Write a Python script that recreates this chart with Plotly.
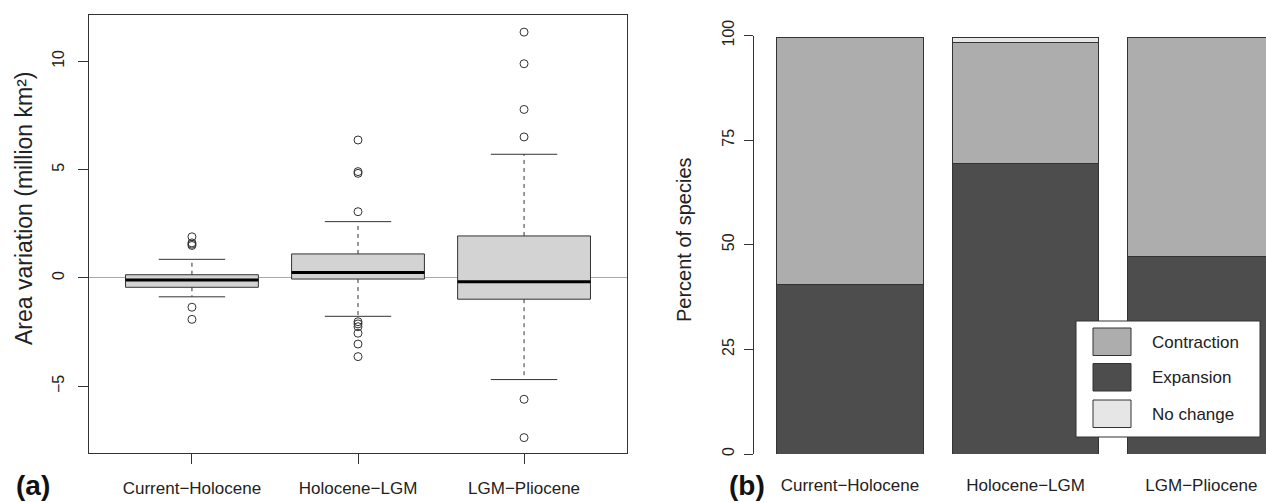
import plotly.graph_objects as go

W, H = 1266, 503
FONT = "Liberation Sans, Arial, sans-serif"
INK = "#333333"

# ---------------- Panel (a) data: area variation (million km²) ----------------
periods = ["Current−Holocene", "Holocene−LGM", "LGM−Pliocene"]
q1 = [-0.43, -0.05, -0.98]
median = [-0.09, 0.25, -0.17]
q3 = [0.15, 1.11, 1.94]
lower_whisker = [-0.87, -1.77, -4.69]
upper_whisker = [0.86, 2.60, 5.71]
outliers = [
    [1.90, 1.62, 1.56, 1.50, -1.35, -1.91],
    [6.37, 4.91, 4.83, 3.06, -2.02, -2.12, -2.25, -2.55, -3.05, -3.63],
    [11.35, 9.89, 7.78, 6.51, -5.60, -7.37],
]
y_ticks_a = [-5, 0, 5, 10]

# ---------------- Panel (b) data: percent of species ----------------
categories = ["Current−Holocene", "Holocene−LGM", "LGM−Pliocene"]
expansion = [40.6, 69.4, 47.1]
contraction = [58.9, 29.0, 52.4]
no_change = [0.0, 1.1, 0.0]
series_names = ["Contraction", "Expansion", "No change"]
series_colors = ["#ADADAD", "#4D4D4D", "#E6E6E6"]
y_ticks_b = [0, 25, 50, 75, 100]


def px_x(p):
    return p / W


def px_y(p):
    return 1 - p / H


fig = go.Figure()

BOX_W = 0.8
CAP_HALF = 0.2
positions = [i + 1 for i in range(len(periods))]

for i, pos in enumerate(positions):
    # dashed whiskers
    for a, b in ((q3[i], upper_whisker[i]), (q1[i], lower_whisker[i])):
        fig.add_trace(go.Scatter(x=[pos, pos], y=[a, b], mode="lines",
                                 line=dict(color=INK, width=1, dash="4px,4px"),
                                 xaxis="x", yaxis="y", showlegend=False, hoverinfo="skip"))
    # caps
    for v in (upper_whisker[i], lower_whisker[i]):
        fig.add_trace(go.Scatter(x=[pos - CAP_HALF, pos + CAP_HALF], y=[v, v], mode="lines",
                                 line=dict(color=INK, width=1),
                                 xaxis="x", yaxis="y", showlegend=False, hoverinfo="skip"))
    # box
    fig.add_trace(go.Box(x=[pos], q1=[q1[i]], median=[median[i]], q3=[q3[i]],
                         lowerfence=[q1[i]], upperfence=[q3[i]], width=BOX_W,
                         whiskerwidth=0, fillcolor="#D3D3D3",
                         line=dict(color=INK, width=1), boxpoints=False,
                         xaxis="x", yaxis="y", showlegend=False, hoverinfo="skip"))
    # thick median
    fig.add_trace(go.Scatter(x=[pos - BOX_W / 2, pos + BOX_W / 2], y=[median[i], median[i]],
                             mode="lines", line=dict(color="#000000", width=3),
                             xaxis="x", yaxis="y", showlegend=False, hoverinfo="skip"))
    # outliers
    fig.add_trace(go.Scatter(x=[pos] * len(outliers[i]), y=outliers[i], mode="markers",
                             marker=dict(symbol="circle-open", size=8, color=INK,
                                         line=dict(width=1, color=INK)),
                             xaxis="x", yaxis="y", showlegend=False, hoverinfo="skip"))

# stacked bars panel (b)
for name, vals, col in (("Expansion", expansion, series_colors[1]),
                        ("Contraction", contraction, series_colors[0]),
                        ("No change", no_change, series_colors[2])):
    fig.add_trace(go.Bar(x=categories, y=vals, name=name, width=0.835,
                         marker=dict(color=col, line=dict(color=INK, width=1)),
                         xaxis="x2", yaxis="y2", showlegend=False))

fig.update_layout(
    template="none",
    width=W, height=H, margin=dict(l=0, r=0, t=0, b=0, pad=0),
    paper_bgcolor="white", plot_bgcolor="white",
    font=dict(family=FONT, color="#222222", size=16),
    barmode="stack", showlegend=False,
    xaxis=dict(domain=[px_x(89), px_x(627)], range=[0.38, 3.62], automargin=False,
               tickvals=positions, ticktext=periods, tickfont=dict(size=17),
               ticks="outside", ticklen=10, tickcolor=INK, tickwidth=1,
               showline=True, linecolor=INK, linewidth=1, mirror=True,
               showgrid=False, zeroline=False, ticklabelstandoff=10),
    yaxis=dict(domain=[px_y(453), px_y(15)], range=[-8.08, 12.14], automargin=False,
               tickvals=y_ticks_a, tickangle=-90, tickfont=dict(size=16),
               ticks="outside", ticklen=10, tickcolor=INK, tickwidth=1,
               showline=True, linecolor=INK, linewidth=1, mirror=True,
               showgrid=False, zeroline=True, zerolinecolor="#AAAAAA", zerolinewidth=1,
               ticklabelstandoff=8),
    xaxis2=dict(domain=[px_x(754), 1.0], range=[-0.546, 2.368], type="category",
                categoryorder="array", categoryarray=categories, automargin=False,
                tickfont=dict(size=17), ticks="", showline=False, showgrid=False,
                zeroline=False, ticklabelstandoff=19, anchor="y2"),
    yaxis2=dict(domain=[px_y(454), px_y(35.5)], range=[0, 100], automargin=False,
                tickvals=y_ticks_b, tickangle=-90, tickfont=dict(size=16),
                ticks="outside", ticklen=9, tickcolor=INK, tickwidth=1,
                showline=True, linecolor=INK, linewidth=1,
                showgrid=False, zeroline=False, anchor="x2", ticklabelstandoff=4),
)

annotations = [
    dict(text="Area variation (million km²)", x=px_x(24), y=px_y(208), textangle=-90,
         font=dict(size=23)),
    dict(text="Percent of species", x=px_x(684), y=px_y(240), textangle=-90,
         font=dict(size=20)),
    dict(text="<b>(a)</b>", x=px_x(33), y=px_y(485), font=dict(size=28, color="#111111")),
    dict(text="<b>(b)</b>", x=px_x(747), y=px_y(485), font=dict(size=28, color="#111111")),
]
for a in annotations:
    a.update(xref="paper", yref="paper", showarrow=False, xanchor="center", yanchor="middle")

# custom legend (R style)
shapes = [dict(type="rect", xref="paper", yref="paper",
               x0=px_x(1076), x1=px_x(1260), y0=px_y(437), y1=px_y(321),
               fillcolor="white", line=dict(color=INK, width=1), layer="above")]
sw_top = [328, 363.5, 400]
for k, (name, col) in enumerate(zip(series_names, series_colors)):
    shapes.append(dict(type="rect", xref="paper", yref="paper",
                       x0=px_x(1093), x1=px_x(1131), y0=px_y(sw_top[k] + 27.5), y1=px_y(sw_top[k]),
                       fillcolor=col, line=dict(color=INK, width=1), layer="above"))
    annotations.append(dict(text=name, xref="paper", yref="paper", x=px_x(1150),
                            y=px_y(sw_top[k] + 14), xanchor="left", yanchor="middle",
                            showarrow=False, font=dict(size=17)))

fig.update_layout(annotations=annotations, shapes=shapes)
fig.write_html("out.html", config={"displayModeBar": False},
               post_script="document.body.style.margin='0px';")
